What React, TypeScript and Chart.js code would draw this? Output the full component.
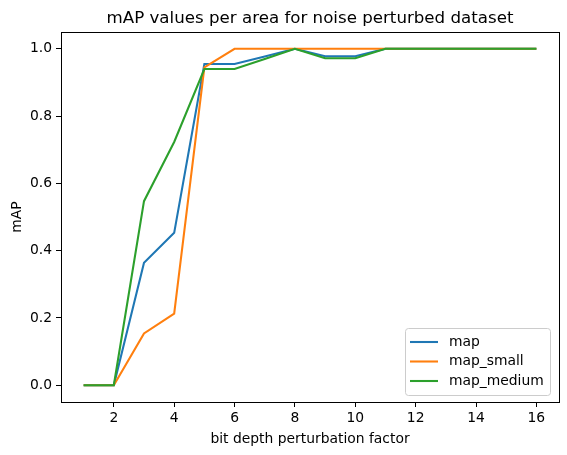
import React, { useEffect, useRef } from "react";
import { Chart, registerables } from "chart.js";

Chart.register(...registerables);

const factors = [1, 2, 3, 4, 5, 6, 7, 8, 9, 10, 11, 12, 13, 14, 15, 16];
const mapValues = [0, 0, 0.364, 0.453, 0.955, 0.955, 0.977, 1.0, 0.978, 0.978, 1.0, 1.0, 1.0, 1.0, 1.0, 1.0];
const mapSmall = [0, 0, 0.154, 0.213, 0.945, 1.0, 1.0, 1.0, 1.0, 1.0, 1.0, 1.0, 1.0, 1.0, 1.0, 1.0];
const mapMedium = [0, 0, 0.547, 0.723, 0.94, 0.94, 0.97, 1.0, 0.972, 0.972, 1.0, 1.0, 1.0, 1.0, 1.0, 1.0];
const xTicks = [2, 4, 6, 8, 10, 12, 14, 16];
const yTicks = [0, 0.2, 0.4, 0.6, 0.8, 1.0];
const seriesNames = ["map", "map_small", "map_medium"];
const seriesColors = ["#1f77b4", "#ff7f0e", "#2ca02c"];

const FONT = "'DejaVu Sans', sans-serif";

export default function App() {
  const ref = useRef<HTMLCanvasElement | null>(null);
  useEffect(() => {
    document.body.style.margin = "0";
    const series = [mapValues, mapSmall, mapMedium];
    const decor = {
      id: "decor",
      afterDraw(chart: any) {
        const { ctx, chartArea } = chart;
        const { left, right, top, bottom } = chartArea;
        ctx.save();
        ctx.strokeStyle = "#000";
        ctx.lineWidth = 1;
        ctx.strokeRect(Math.round(left) + 0.5, Math.round(top) + 0.5, Math.round(right - left), Math.round(bottom - top));
        // title
        ctx.fillStyle = "#000";
        ctx.font = `16.67px ${FONT}`;
        ctx.textAlign = "center";
        ctx.textBaseline = "alphabetic";
        ctx.fillText("mAP values per area for noise perturbed dataset", (left + right) / 2, 23);
        // legend
        const bx = 405.5, by = 328.5, bw = 145, bh = 67;
        ctx.fillStyle = "rgba(255,255,255,0.8)";
        ctx.strokeStyle = "#cccccc";
        ctx.beginPath();
        if ((ctx as any).roundRect) (ctx as any).roundRect(bx, by, bw, bh, 3);
        else ctx.rect(bx, by, bw, bh);
        ctx.fill();
        ctx.stroke();
        ctx.font = `13.89px ${FONT}`;
        ctx.textAlign = "left";
        ctx.textBaseline = "middle";
        for (let i = 0; i < 3; i++) {
          const yy = 342 + i * 19.5;
          ctx.strokeStyle = seriesColors[i];
          ctx.lineWidth = 2.08;
          ctx.beginPath();
          ctx.moveTo(410, yy);
          ctx.lineTo(438, yy);
          ctx.stroke();
          ctx.fillStyle = "#000";
          ctx.fillText(seriesNames[i], 449, yy);
        }
        ctx.restore();
      },
    };
    const chart = new Chart(ref.current as HTMLCanvasElement, {
      type: "line",
      data: {
        datasets: series.map((s, i) => ({
          label: seriesNames[i],
          data: factors.map((f, j) => ({ x: f, y: s[j] })),
          borderColor: seriesColors[i],
          backgroundColor: seriesColors[i],
          borderWidth: 2.08,
          pointRadius: 0,
          tension: 0,
          fill: false,
          order: 2 - i,
        })),
      },
      options: {
        animation: false,
        responsive: false,
        maintainAspectRatio: false,
        layout: { padding: { top: 32, right: 8, left: 0, bottom: 0 } },
        plugins: { legend: { display: false }, title: { display: false }, tooltip: { enabled: false } },
        scales: {
          x: {
            type: "linear",
            min: 0.25,
            max: 16.75,
            afterFit: (s: any) => { s.height = 53; },
            afterBuildTicks: (s: any) => { s.ticks = xTicks.map((v) => ({ value: v })); },
            grid: { display: true, drawOnChartArea: false, drawTicks: true, tickLength: 5, color: "#000", tickWidth: 1 },
            border: { display: false },
            ticks: { color: "#000", font: { family: FONT, size: 13.89 }, padding: 3, maxRotation: 0, callback: (v: any) => String(v) },
            title: { display: true, text: "bit depth perturbation factor", color: "#000", font: { family: FONT, size: 13.89 }, padding: { top: 2, bottom: 7 } },
          },
          y: {
            type: "linear",
            min: -0.05,
            max: 1.05,
            afterFit: (s: any) => { s.width = 61; },
            afterBuildTicks: (s: any) => { s.ticks = yTicks.map((v) => ({ value: v })); },
            grid: { display: true, drawOnChartArea: false, drawTicks: true, tickLength: 5, color: "#000", tickWidth: 1 },
            border: { display: false },
            ticks: { color: "#000", font: { family: FONT, size: 13.89 }, padding: 4, callback: (v: any) => Number(v).toFixed(1) },
            title: { display: true, text: "mAP", color: "#000", font: { family: FONT, size: 13.89 }, padding: { top: 9, bottom: 4 } },
          },
        },
      },
      plugins: [decor],
    });
    return () => chart.destroy();
  }, []);
  return <canvas ref={ref} width={567} height={455} style={{ display: "block" }} />;
}
